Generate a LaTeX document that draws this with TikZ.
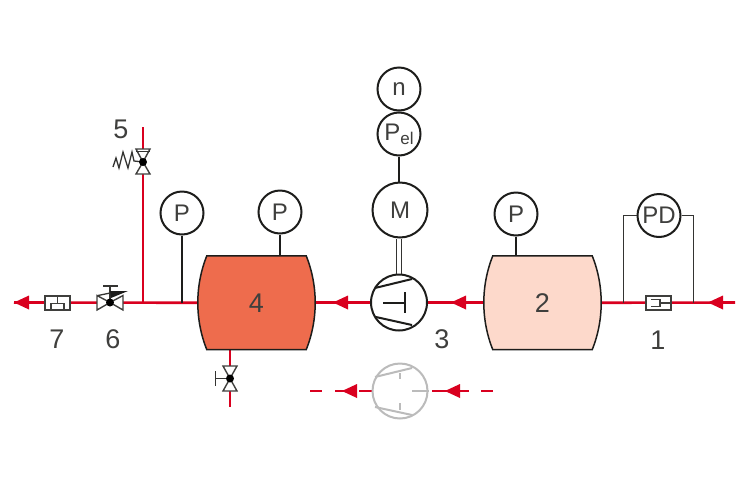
\documentclass[tikz,border=0pt]{standalone}
\usepackage{fontspec}
\setmainfont{Liberation Sans}
\definecolor{pipered}{HTML}{D9001F}
\definecolor{inkblack}{HTML}{1D1D1B}
\definecolor{hot}{HTML}{EE6C4D}
\definecolor{pale}{HTML}{FDD9CB}
\definecolor{ghost}{HTML}{BBBBBB}
\tikzset{
  pipe/.style={draw=pipered,line width=2.6pt},
  dashpipe/.style={draw=pipered,line width=2.6pt},
  wire/.style={draw=inkblack,line width=2pt},
  thin wire/.style={draw=inkblack!90,line width=1.3pt},
  gauge/.style={circle,draw=inkblack,line width=2pt,fill=white,inner sep=0pt,minimum size=#1,font=\fontsize{24}{24}\selectfont,text=inkblack!85},
  gauge/.default=43pt,
  tag/.style={font=\fontsize{27}{27}\selectfont,text=inkblack!85,inner sep=0pt},
  tank/.style={draw=none,minimum width=117pt,minimum height=93.5pt,inner sep=0pt,font=\fontsize{27}{27}\selectfont,text=inkblack!85},
  outline/.style={draw=inkblack,line width=1.5pt},
  box/.style={draw=inkblack!85,line width=1.4pt,fill=white,minimum width=25pt,minimum height=14pt,inner sep=0pt},
  tri/.style={draw=inkblack!85,line width=1.4pt,fill=white,line join=miter},
  pin/.style={circle,fill=black,inner sep=0pt,minimum size=8pt}
}
\newcommand{\headL}[2]{\fill[pipered] (#1,#2) -- (#1+15,#2-7) -- (#1+15,#2+7) -- cycle;}
\newcommand{\tankpath}[2]{%
  \draw[outline,fill=#2] ([xshift=9pt]#1.north west) -- ([xshift=-9pt]#1.north east)
    .. controls ([xshift=3pt,yshift=-30pt]#1.north east) and ([xshift=3pt,yshift=30pt]#1.south east) .. ([xshift=-9pt]#1.south east)
    -- ([xshift=9pt]#1.south west)
    .. controls ([xshift=-3pt,yshift=30pt]#1.south west) and ([xshift=-3pt,yshift=-30pt]#1.north west) .. ([xshift=9pt]#1.north west) -- cycle;}
\begin{document}
\begin{tikzpicture}[x=1pt,y=-1pt]
\useasboundingbox (0,0) rectangle (755,488);
% anchors
\node[tank] (t4) at (256.5,302.75) {};
\node[tank] (t2) at (542.5,302.75) {};
\coordinate (endL) at (14,302.5);
\coordinate (endR) at (735,302.5);
\coordinate (v6) at (110,302.5);
\coordinate (v5) at (143,162);
\coordinate (v4) at (230,378.5);
\coordinate (teeA) at (143,302.5);
\coordinate (teeB) at (182,302.5);
\coordinate (top5) at (143,127);
\coordinate (botv) at (230,407);
\coordinate (pdL) at (623.5,302.5);
\coordinate (pdR) at (693.5,302.5);
% pipes
\draw[pipe] (endL) -- (t4.west);
\draw[pipe] (teeA) -- (top5);
\draw[pipe] (t4.east) -- (t2.west);
\draw[pipe] (t2.east) -- (endR);
\draw[pipe] (t4.south -| v4) -- (botv);
\headL{14}{302.5}
\headL{333}{302.5}
\headL{451}{302.5}
\headL{708}{302.5}
% tanks
\tankpath{t4}{hot}
\tankpath{t2}{pale}
\node[tank] at (t4) {\raisebox{0pt}{4}};
\node[tank] at (t2) {2};
% gauges
\node[gauge] (p1) at (182,213) {P};
\node[gauge] (p2) at (280,212) {P};
\node[gauge] (p3) at (516,214) {P};
\node[gauge] (pd) at (659,215.5) {PD};
\node[gauge] (n) at (399,89) {n};
\node[gauge] (pel) at (399,134) {P\raisebox{-4pt}{\fontsize{17}{17}\selectfont el}};
\node[gauge=55pt] (m) at (400,210) {M};
\node[gauge=56pt] (pump) at (399,302.5) {};
\draw[wire] (p1) -- (teeB);
\draw[wire] (p2) -- (p2 |- t4.north);
\draw[wire] (p3) -- (p3 |- t2.north);
\draw[wire] (pel) -- (pel |- m.north);
\draw[thin wire] ([xshift=-2.2pt]pump.north) -- ([xshift=-2.2pt]pump.north |- m.south);
\draw[thin wire] ([xshift=2.2pt]pump.north) -- ([xshift=2.2pt]pump.north |- m.south);
\draw[thin wire] (pd.west) -- (pd.west -| pdL) -- (pdL);
\draw[thin wire] (pd.east) -- (pd.east -| pdR) -- (pdR);
% pump interior
\draw[wire] (375,288) -- (412,279);
\draw[wire] (376,317) -- (412,325);
\draw[wire] (383,302.5) -- (405,302.5);
\draw[wire] (405,292) -- (405,313);
% ghost pump
\draw[dashpipe] (310,391) -- (322,391);
\draw[dashpipe] (335,391) -- (347,391);
\draw[dashpipe] (359,391) -- (372,391);
\draw[dashpipe] (432,391) -- (458,391);
\draw[dashpipe] (458,391) -- (469,391);
\draw[dashpipe] (481,391) -- (493,391);
\headL{342}{391}
\headL{445}{391}
\node[circle,draw=ghost,line width=2pt,fill=white,minimum size=55pt,inner sep=0pt] (gp) at (400,391) {};
\draw[ghost,line width=2pt] (375,377) -- (412,368);
\draw[ghost,line width=2pt] (375,407) -- (412,415);
\draw[ghost,line width=2pt] (400,373) -- (400,379);
\draw[ghost,line width=2pt] (400,403) -- (400,410);
\draw[ghost,line width=2pt] (412,391) -- (gp.east);
% filter 7
\node[box] (f7) at (57.5,303) {};
\draw[inkblack!85,line width=1.3pt] (51,310) -- (51,303.5) -- (64,303.5) -- (64,310);
\draw[inkblack!85,line width=1.3pt] (57.5,296) -- (57.5,303.5);
% filter 1
\node[box] (f1) at (658.5,303) {};
\draw[inkblack!85,line width=1.5pt] (651,299.5) -- (660,299.5) -- (660,306.5) -- (651,306.5);
\draw[inkblack!85,line width=1.5pt] (660,303) -- (671,303);
% valve 6
\draw[tri] (v6) -- (97,295.5) -- (97,310) -- cycle;
\draw[tri] (v6) -- (123,295.5) -- (123,310) -- cycle;
\draw[thin wire] (v6) -- (110,286);
\draw[thin wire] (103,286) -- (118,286);
\draw[thin wire] (98,295.5) -- (115,292);
\fill[inkblack] (110,291) -- (128,291) -- (111,298) -- cycle;
\node[pin] at (v6) {};
% valve 5
\draw[tri] (v5) -- (136,149) -- (150,149) -- cycle;
\draw[tri] (v5) -- (136,174) -- (150,174) -- cycle;
\draw[thin wire] (136,151.5) -- (150,151.5);
\draw[thin wire] (v5) -- (134,161) -- (132,152) -- (128,168) -- (123,152) -- (119,168) -- (116,158) -- (113,167);
\node[pin] at (v5) {};
% valve bottom
\draw[tri] (v4) -- (223,366) -- (237,366) -- cycle;
\draw[tri] (v4) -- (223,391) -- (237,391) -- cycle;
\draw[thin wire] (v4) -- (215.5,378.5);
\draw[thin wire] (215.5,371) -- (215.5,386);
\node[pin] at (v4) {};
% labels
\node[tag] (l1) at (658,340) {1};
\node[tag] (l3) at (442,339) {3};
\node[tag] (l5) at (121,129) {5};
\node[tag] (l6) at (113,339) {6};
\node[tag] (l7) at (57,339) {7};
\end{tikzpicture}
\end{document}
